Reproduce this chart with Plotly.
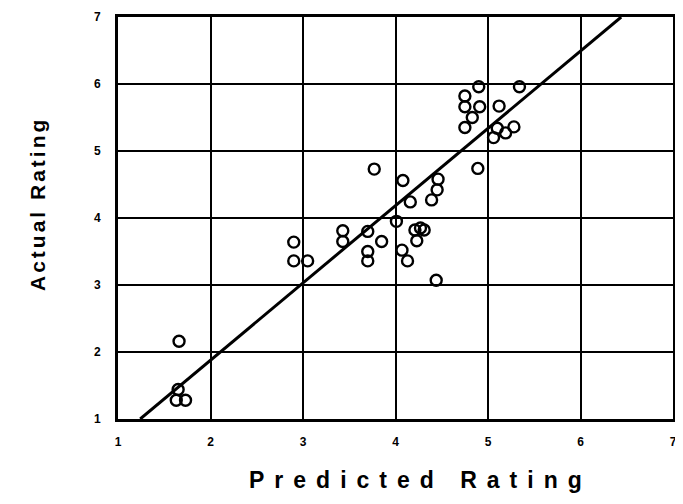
import plotly.graph_objects as go

# Observed data (predicted vs actual rating)
predicted = [1.66, 1.65, 1.63, 1.73, 2.90, 2.90, 3.05, 3.43, 3.43, 3.70,
             3.85, 3.70, 3.70, 3.77, 4.01, 4.08, 4.46, 4.45, 4.39, 4.16,
             4.89, 4.21, 4.27, 4.31, 4.23, 4.07, 4.13, 4.44, 4.90, 5.34,
             4.75, 4.75, 4.91, 5.12, 4.83, 4.75, 5.10, 5.28, 5.19, 5.06]
actual = [2.16, 1.44, 1.28, 1.28, 3.64, 3.36, 3.36, 3.81, 3.65, 3.80,
          3.65, 3.50, 3.36, 4.73, 3.95, 4.56, 4.58, 4.42, 4.27, 4.24,
          4.74, 3.82, 3.85, 3.82, 3.66, 3.52, 3.36, 3.07, 5.96, 5.96,
          5.82, 5.66, 5.66, 5.67, 5.50, 5.35, 5.34, 5.36, 5.27, 5.20]

# Fitted line end points
fit_x = [1.24, 6.44]
fit_y = [1.0, 7.0]

tick_vals = [1, 2, 3, 4, 5, 6, 7]
tick_text = ["1", "2", "3", "4", "5", "6", "7"]

FONT = "Arial, Liberation Sans, sans-serif"

fig = go.Figure()
fig.add_trace(go.Scatter(
    x=fit_x, y=fit_y, mode="lines",
    line=dict(color="black", width=3),
    hoverinfo="skip", showlegend=False, cliponaxis=True,
))
fig.add_trace(go.Scatter(
    x=predicted, y=actual, mode="markers",
    marker=dict(symbol="circle-open", size=11, color="black",
                line=dict(color="black", width=2.4)),
    showlegend=False,
))

axis_common = dict(
    range=[1, 7], tickmode="array", tickvals=tick_vals, ticktext=tick_text,
    showgrid=True, gridcolor="black", gridwidth=2,
    showline=True, linecolor="black", linewidth=3, mirror=True,
    zeroline=False, ticks="", fixedrange=True, automargin=False,
    ticklabeloverflow="allow",
    tickfont=dict(family=FONT, size=12, color="black", weight="bold"),
)

# Page body adds an 8px margin on each side; size the figure so nothing overflows
fig.update_layout(
    template="none",
    width=667, height=488,
    margin=dict(l=110, r=2, t=9, b=77),
    paper_bgcolor="white", plot_bgcolor="white",
    xaxis=dict(**axis_common, ticklabelstandoff=10),
    yaxis=dict(**axis_common, ticklabelstandoff=12),
    annotations=[
        dict(text='<span style="letter-spacing:10px">Predicted Rating</span>',
             xref="paper", yref="paper", x=0.545, y=-0.152,
             xanchor="center", yanchor="middle", showarrow=False,
             font=dict(family=FONT, size=23, color="black", weight="bold")),
        dict(text='<span style="letter-spacing:3px">Actual Rating</span>',
             xref="paper", yref="paper", x=-0.144, y=0.535,
             xanchor="center", yanchor="middle", showarrow=False, textangle=-90,
             font=dict(family=FONT, size=21, color="black", weight="bold")),
    ],
)

fig.write_html("out.html")
